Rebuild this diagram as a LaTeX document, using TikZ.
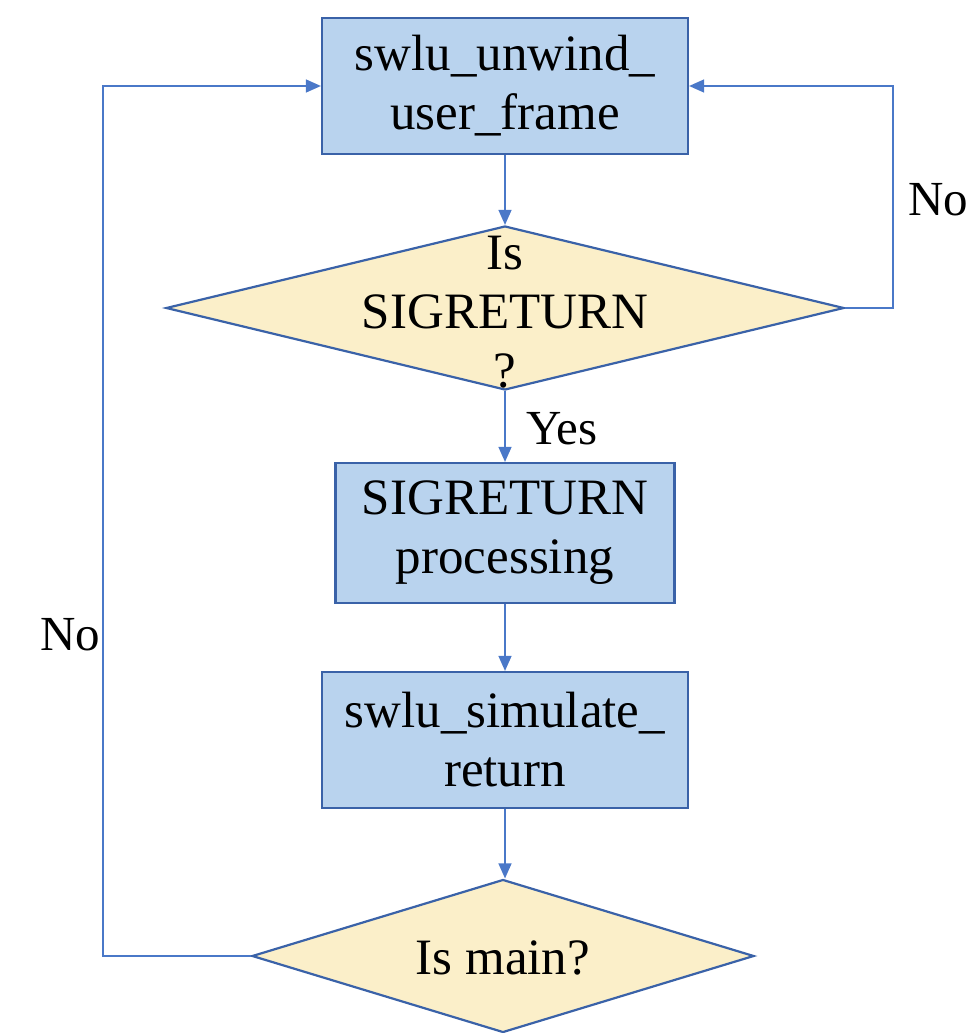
\documentclass[tikz,border=0pt]{standalone}
\usepackage{fontspec}
\setmainfont{LiberationSerif}[Extension=.ttf, UprightFont=*-Regular]
\usetikzlibrary{arrows.meta,shapes.geometric}
\definecolor{boxfill}{HTML}{B9D3EE}
\definecolor{boxline}{HTML}{3A62A8}
\definecolor{decfill}{HTML}{FBEFC9}
\definecolor{wire}{HTML}{4A78C8}
\tikzset{
  procbox/.style={draw=boxline, line width=2.2pt, fill=boxfill, inner sep=0pt,
    minimum width=366pt, minimum height=136pt, align=center,
    font=\fontsize{51}{59}\selectfont},
  decshape/.style={draw=boxline, line width=2.2pt, fill=decfill, shape=diamond, inner sep=0pt},
  dectext/.style={align=center, inner sep=0pt, font=\fontsize{51}{59}\selectfont},
  flow/.style={draw=wire, line width=1.4pt, -{Triangle[length=15pt,width=13pt]}},
  lbl/.style={inner sep=0pt, font=\fontsize{49}{55}\selectfont}
}
\begin{document}
\begin{tikzpicture}[x=1pt,y=-1pt]
\useasboundingbox (0,0) rectangle (969,1033);

% process boxes
\node[procbox] (unwind) at (505,86) {swlu\_unwind\_\\user\_frame};
\node[procbox, minimum width=339pt, minimum height=140pt] (sigproc) at (505,533) {SIGRETURN\\processing};
\node[procbox] (simret) at (505,740) {swlu\_simulate\_\\return};

% decisions
\node[decshape, minimum width=678pt, minimum height=164pt] (issig) at (505,308) {};
\node[dectext] (issigtxt) at (505,312) {Is\\SIGRETURN\\?};
\node[decshape, minimum width=502pt, minimum height=153pt] (ismain) at (503,956) {};
\node[dectext] (ismaintxt) at (503,958) {Is main?};

% main flow
\draw[flow] (unwind.south) -- (unwind.south |- issig.north);
\draw[flow] (issig.south) -- (issig.south |- sigproc.north);
\draw[flow] (sigproc.south) -- (sigproc.south |- simret.north);
\draw[flow] (simret.south) -- (simret.south |- ismain.north);

% loops back to the top box
\coordinate (rloop) at (893,0);
\coordinate (lloop) at (103,0);
\draw[flow] (issig.east) -- (issig.east -| rloop) |- (unwind.east);
\draw[flow] (ismain.west) -- (ismain.west -| lloop) |- (unwind.west);

% branch labels
\node[lbl] (yes) at (562,429) {Yes};
\node[lbl] (noright) at (938,200) {No};
\node[lbl] (noleft) at (70,635) {No};
\end{tikzpicture}
\end{document}
